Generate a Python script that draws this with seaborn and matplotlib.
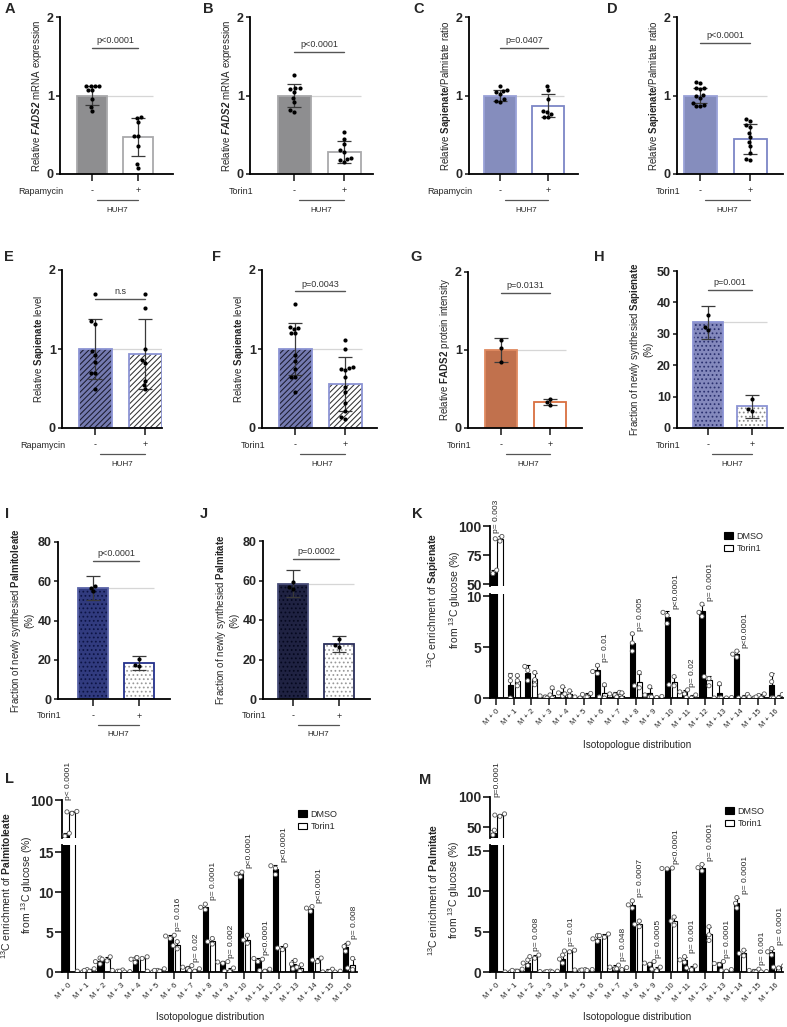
import numpy as np
import pandas as pd
import matplotlib
matplotlib.use("Agg")
import matplotlib.pyplot as plt
from matplotlib.patches import Rectangle, Patch
import seaborn as sns

# ---------------- data: two-bar panels (A-J) ----------------
groups = ["-", "+"]

A_means = [1.0, 0.47]
A_sd = [0.12, 0.24]
A_ctrl = [1.12, 1.12, 1.12, 1.12, 1.07, 1.07, 0.95, 0.85, 0.80]
A_trt = [0.72, 0.71, 0.66, 0.49, 0.48, 0.36, 0.13, 0.08]

B_means = [1.0, 0.28]
B_sd = [0.15, 0.14]
B_ctrl = [1.26, 1.10, 1.10, 1.08, 1.05, 0.97, 0.92, 0.82, 0.79]
B_trt = [0.53, 0.45, 0.38, 0.30, 0.28, 0.20, 0.19, 0.18, 0.15]

C_means = [1.0, 0.87]
C_sd = [0.07, 0.15]
C_ctrl = [1.12, 1.07, 1.06, 1.05, 1.02, 0.95, 0.93, 0.92]
C_trt = [1.12, 1.07, 0.95, 0.80, 0.79, 0.76, 0.73, 0.72]

D_means = [1.0, 0.45]
D_sd = [0.09, 0.19]
D_ctrl = [1.17, 1.16, 1.10, 1.09, 1.08, 1.01, 0.99, 0.97, 0.91, 0.88, 0.87, 0.87]
D_trt = [0.70, 0.68, 0.63, 0.60, 0.52, 0.47, 0.41, 0.36, 0.27, 0.19, 0.18]

E_means = [1.0, 0.94]
E_sd = [0.38, 0.44]
E_ctrl = [1.70, 1.35, 1.32, 0.97, 0.93, 0.84, 0.70, 0.69, 0.50]
E_trt = [1.69, 1.52, 1.00, 0.86, 0.82, 0.60, 0.55, 0.50]

F_means = [1.0, 0.56]
F_sd = [0.33, 0.34]
F_ctrl = [1.57, 1.28, 1.27, 1.25, 1.20, 1.20, 0.93, 0.85, 0.75, 0.65, 0.65, 0.45]
F_trt = [1.12, 1.00, 0.77, 0.76, 0.75, 0.73, 0.65, 0.52, 0.45, 0.32, 0.22, 0.14, 0.12]

G_means = [1.0, 0.33]
G_sd = [0.16, 0.04]
G_ctrl = [1.13, 1.03, 0.84]
G_trt = [0.37, 0.33, 0.29]

H_means = [33.7, 6.9]
H_sd = [5.3, 3.6]
H_ctrl = [35.9, 32.1, 31.3]
H_trt = [9.2, 6.1, 5.4]

I_means = [56.6, 18.5]
I_sd = [6.2, 3.6]
I_ctrl = [57.8, 56.8, 55.0]
I_trt = [20.5, 17.2, 17.0]

J_means = [58.3, 27.8]
J_sd = [6.8, 4.0]
J_ctrl = [59.0, 56.5, 55.5]
J_trt = [30.5, 27.5, 26.5]

# ---------------- data: isotopologue panels (K-M), 3 replicates ----------------
iso_labels = ["M + %d" % i for i in range(17)]
treat_order = ["DMSO", "Torin1"]

K_dmso = [[62, 61, 59], [2.2, 1.7, 0.0], [3.1, 2.7, 1.7], [0.3, 0.2, 0.1], [1.1, 0.5, 0.2],
          [0.15, 0.1, 0.0], [3.2, 2.6, 2.4], [0.55, 0.4, 0.3], [6.3, 5.4, 4.6], [1.1, 0.3, 0.1],
          [8.4, 8.1, 7.3], [0.8, 0.6, 0.4], [9.2, 8.4, 8.0], [1.4, 0.0, 0.0], [4.6, 4.3, 4.0],
          [0.25, 0.1, 0.0], [2.3, 1.6, 0.0]]
K_torin = [[91, 89, 87], [2.2, 1.7, 1.2], [2.5, 1.8, 1.3], [1.0, 0.0, 0.0], [0.7, 0.4, 0.2],
           [0.45, 0.35, 0.1], [1.3, 0.1, 0.0], [0.5, 0.1, 0.0], [2.5, 1.2, 1.0], [0.15, 0.1, 0.05],
           [2.1, 1.3, 1.2], [0.3, 0.05, 0.0], [2.1, 1.9, 1.2], [0.05, 0.0, 0.0], [0.35, 0.0, 0.0],
           [0.4, 0.1, 0.0], [0.35, 0.0, 0.0]]
K_p_idx = [0, 6, 8, 10, 11, 12, 14]
K_p_txt = ["p= 0.003", "p= 0.01", "p= 0.005", "p<0.0001", "p= 0.02", "p= 0.0001", "p<0.0001"]

L_dmso = [[65, 64, 62], [0.3, 0.1, 0.0], [1.75, 1.3, 1.0], [0.25, 0.2, 0.1], [1.8, 1.6, 1.2],
          [0.2, 0.1, 0.0], [4.6, 4.5, 4.2], [0.8, 0.6, 0.4], [8.5, 8.1, 7.8], [1.3, 1.25, 1.1],
          [12.5, 12.3, 11.9], [1.7, 1.6, 1.3], [13.3, 13.0, 12.2], [1.45, 1.0, 0.4], [8.2, 8.0, 7.6],
          [0.35, 0.0, 0.0], [3.6, 3.2, 2.6]]
L_torin = [[88, 87.5, 86], [0.4, 0.2, 0.1], [1.9, 1.6, 1.4], [0.1, 0.05, 0.0], [1.9, 1.8, 1.7],
           [0.4, 0.2, 0.1], [3.8, 3.3, 2.9], [0.4, 0.2, 0.1], [4.2, 3.8, 3.5], [0.5, 0.1, 0.05],
           [4.6, 4.0, 3.6], [0.35, 0.2, 0.1], [3.3, 3.0, 2.8], [0.9, 0.6, 0.1], [1.75, 1.5, 1.3],
           [0.1, 0.05, 0.0], [1.7, 0.5, 0.3]]
L_p_idx = [0, 6, 7, 8, 9, 10, 11, 12, 14, 16]
L_p_txt = ["p< 0.0001", "p= 0.016", "p= 0.02", "p= 0.0001", "p= 0.002", "p<0.0001",
           "p<0.0001", "p<0.0001", "p<0.0001", "p= 0.008"]

M_dmso = [[45, 41, 37], [0.1, 0.0, 0.0], [1.5, 1.1, 0.8], [0.1, 0.05, 0.0], [2.1, 1.6, 1.1],
          [0.3, 0.25, 0.2], [4.5, 4.1, 3.8], [0.85, 0.6, 0.4], [8.8, 8.3, 7.9], [1.3, 1.1, 0.95],
          [12.85, 12.8, 12.75], [1.9, 1.5, 1.2], [13.3, 12.9, 12.5], [1.3, 1.05, 0.9], [9.2, 8.5, 7.9],
          [0.35, 0.2, 0.05], [2.9, 2.5, 2.1]]
M_torin = [[72, 70, 68], [0.35, 0.2, 0.1], [2.1, 1.9, 1.7], [0.1, 0.05, 0.0], [2.7, 2.6, 2.5],
           [0.3, 0.25, 0.2], [4.7, 4.5, 4.3], [0.55, 0.4, 0.3], [6.3, 5.9, 5.6], [0.6, 0.35, 0.15],
           [6.8, 6.3, 5.8], [0.75, 0.5, 0.3], [5.6, 4.6, 3.9], [0.3, 0.2, 0.1], [2.7, 2.3, 2.0],
           [0.05, 0.0, 0.0], [0.75, 0.6, 0.5]]
M_p_idx = [0, 2, 4, 7, 8, 9, 10, 11, 12, 13, 14, 15, 16]
M_p_txt = ["p=0.0001", "p= 0.008", "p= 0.01", "p= 0.048", "p= 0.0007", "p= 0.0005", "p<0.0001",
           "p= 0.001", "p= 0.0001", "p= 0.0001", "p= 0.0001", "p= 0.001", "p= 0.0001"]

# ---------------- style ----------------
sns.set_style("ticks")
plt.rcParams["font.family"] = ["Liberation Sans", "DejaVu Sans"]
plt.rcParams["mathtext.fontset"] = "custom"
plt.rcParams["mathtext.rm"] = "Liberation Sans"
plt.rcParams["mathtext.it"] = "Liberation Sans:italic"
plt.rcParams["mathtext.bf"] = "Liberation Sans:bold"
plt.rcParams["mathtext.bfit"] = "Liberation Sans:italic:bold"
plt.rcParams["hatch.linewidth"] = 0.75
plt.rcParams["axes.linewidth"] = 1.3
plt.rcParams["axes.edgecolor"] = "black"

W, H = 787, 1027
fig = plt.figure(figsize=(W / 100, H / 100), dpi=100)


def px_axes(left, top, right, bottom):
    return fig.add_axes([left / W, 1 - bottom / H, (right - left) / W, (bottom - top) / H])


def fig_text(x, y, s, **kw):
    fig.text(x / W, 1 - y / H, s, **kw)


def two_bar(box, centers, means, sds, ctrl, trt, ylim, yticks, ylabel, treat, ptxt, py,
            fills, edges, hatch=None, hatch_cols=None):
    left, top, right, bottom = box
    ax = px_axes(left, top, right, bottom)
    c1, c2 = centers
    step = c2 - c1
    xl = ((left - c1) / step, 1 + (right - c2) / step)
    ax.set_xlim(xl)
    ax.set_ylim(ylim)

    bars = pd.DataFrame({"grp": groups, "val": means})
    sns.barplot(data=bars, x="grp", y="val", hue="grp", order=groups, hue_order=groups,
                palette=dict(zip(groups, fills)), width=0.66, errorbar=None, legend=False,
                ax=ax, zorder=2)
    patches = sorted(ax.patches, key=lambda p: p.get_x())
    for i, p in enumerate(patches):
        if hatch:
            p.set_hatch(hatch)
            p.set_edgecolor(hatch_cols[i])
            p.set_linewidth(0)
            ax.add_patch(Rectangle(p.get_xy(), p.get_width(), p.get_height(), fill=False,
                                   edgecolor=edges[i], lw=1.3, zorder=2.1))
        else:
            p.set_edgecolor(edges[i])
            p.set_linewidth(1.3)
    half = patches[0].get_width() / 2
    ax.hlines(means[0], -half, 1 + half, color="#d6d6d6", lw=0.9, zorder=1)
    ax.errorbar([0, 1], means, yerr=sds, fmt="none", ecolor="#3a3a3a", elinewidth=0.9,
                capsize=5, capthick=0.9, zorder=3)

    ax.set_xlim(xl)
    ax.set_ylim(ylim)
    pts = pd.DataFrame({"grp": ["-"] * len(ctrl) + ["+"] * len(trt), "val": ctrl + trt})
    sns.swarmplot(data=pts, x="grp", y="val", order=groups, color="black", size=3,
                  ax=ax, zorder=4)
    ax.set_xlim(xl)
    ax.set_ylim(ylim)

    ax.plot([0, 1], [py, py], color="#555555", lw=1.0, clip_on=False)
    ax.annotate(ptxt, xy=(0.5, py), xytext=(0, 2), textcoords="offset points",
                ha="center", va="bottom", fontsize=6.5, color="#333333")

    sns.despine(ax=ax)
    ax.set_yticks(yticks, labels=[str(t) for t in yticks], fontsize=9, fontweight="bold")
    ax.tick_params(axis="y", length=3, width=1.2, pad=1.5)
    ax.set_xticks([0, 1], labels=["", ""])
    ax.tick_params(axis="x", length=5, width=1.2)
    ax.set_xlabel("")
    ax.set_ylabel(ylabel, fontsize=7, labelpad=2)

    # treatment row under the axis
    hpx = bottom - top
    ax.annotate(treat, xy=(0, 0), xycoords="axes fraction", xytext=(3, -17),
                textcoords="offset pixels", ha="right", va="center", fontsize=6.5)
    for i, s in enumerate(groups):
        ax.annotate(s, xy=(i, 0), xycoords=("data", "axes fraction"), xytext=(0, -17),
                    textcoords="offset pixels", ha="center", va="center", fontsize=6.5)
    ax.plot([0.1, 1.0], [-26 / hpx, -26 / hpx], transform=ax.get_xaxis_transform(),
            color="#555555", lw=0.9, clip_on=False)
    ax.annotate("HUH7", xy=(0.55, 0), xycoords=("data", "axes fraction"), xytext=(0, -36),
                textcoords="offset pixels", ha="center", va="center", fontsize=5.8)
    return ax


def iso_panel(left, right, up_tb, lo_tb, dmso, torin, up_lim, up_ticks, lo_lim, lo_ticks,
              p_idx, p_txt, p0_y, ylabel, ylab_xy, leg_xy, xlab_xy):
    rows = []
    for lab, d, t in zip(iso_labels, dmso, torin):
        rows += [(lab, "DMSO", v) for v in d] + [(lab, "Torin1", v) for v in t]
    df = pd.DataFrame(rows, columns=["iso", "treat", "val"])
    stats = df.groupby(["treat", "iso"])["val"].agg(["mean", "std", "max"])

    ax_up = px_axes(left, up_tb[0], right, up_tb[1])
    ax_lo = px_axes(left, lo_tb[0], right, lo_tb[1])
    xl = (-0.37, 16.45)
    for ax, lim in ((ax_up, up_lim), (ax_lo, lo_lim)):
        ax.set_xlim(xl)
        ax.set_ylim(lim)
        sns.barplot(data=df, x="iso", y="val", hue="treat", order=iso_labels,
                    hue_order=treat_order, palette={"DMSO": "black", "Torin1": "white"},
                    errorbar=None, width=0.8, gap=0.25, edgecolor="black", linewidth=0.8,
                    legend=False, ax=ax, zorder=2)
        ax.set_xlim(xl)
        ax.set_ylim(lim)
        for k, tr in enumerate(treat_order):
            m = stats.loc[tr].reindex(iso_labels)
            xs = np.arange(len(iso_labels)) + (-0.2 if k == 0 else 0.2)
            ax.errorbar(xs, m["mean"], yerr=[np.zeros(len(xs)), m["std"]], fmt="none",
                        ecolor="black", elinewidth=0.8, capsize=1.5, capthick=0.8, zorder=3)
        sns.swarmplot(data=df, x="iso", y="val", hue="treat", order=iso_labels,
                      hue_order=treat_order, dodge=True,
                      palette={"DMSO": "white", "Torin1": "white"}, edgecolor="#555555",
                      linewidth=0.6, size=3, legend=False, ax=ax, zorder=4)
        ax.set_xlim(xl)
        ax.set_ylim(lim)
        ax.set_xlabel("")
        ax.set_ylabel("")

    sns.despine(ax=ax_up, bottom=True)
    ax_up.set_xticks([])
    ax_up.set_yticks(up_ticks, labels=[str(t) for t in up_ticks], fontsize=10, fontweight="bold")
    ax_up.tick_params(axis="y", length=5, width=1.3, pad=1)

    sns.despine(ax=ax_lo)
    ax_lo.set_yticks(lo_ticks, labels=[str(t) for t in lo_ticks], fontsize=10, fontweight="bold")
    ax_lo.tick_params(axis="y", length=5, width=1.3, pad=1)
    ax_lo.set_xticks(range(len(iso_labels)), labels=iso_labels, rotation=45, ha="right",
                     rotation_mode="anchor", fontsize=5.5)
    ax_lo.tick_params(axis="x", length=5, width=1.2, pad=2)

    pad = 0.03 * lo_lim[1]
    for i, txt in zip(p_idx, p_txt):
        if i == 0:
            ax_up.text(0.0, p0_y, txt, rotation=90, ha="center", va="bottom", fontsize=6,
                       clip_on=False)
        else:
            top = max(stats.loc[("DMSO", iso_labels[i]), "max"],
                      stats.loc[("Torin1", iso_labels[i]), "max"])
            ax_lo.text(i + 0.28, top + pad, txt, rotation=90, ha="center", va="bottom",
                       fontsize=6)

    fig_text(*ylab_xy, ylabel, rotation=90, ha="center", va="center", fontsize=7.5,
             linespacing=1.5)
    fig_text(*xlab_xy, "Isotopologue distribution", ha="center", va="center", fontsize=7.2)
    handles = [Patch(facecolor="black", edgecolor="black", lw=0.8),
               Patch(facecolor="white", edgecolor="black", lw=0.8)]
    fig.legend(handles, treat_order, loc="upper left",
               bbox_to_anchor=(leg_xy[0] / W, 1 - leg_xy[1] / H), frameon=False,
               fontsize=6.5, handlelength=1.0, handleheight=0.8, handletextpad=0.4,
               labelspacing=0.35, borderpad=0, borderaxespad=0)


# ---------------- draw ----------------
grey = ["#8e8e90", "white"]
grey_e = ["#a9a9ab", "#a9a9ab"]
peri = ["#7c86c6", "white"]
peri_e = ["#9aa2d8", "#7c86c6"]
y_fads = r"Relative $\mathbfit{FADS2}$ mRNA expression"
y_ratio = r"Relative $\mathbf{Sapienate}$/Palmitate ratio"
y_level = r"Relative $\mathbf{Sapienate}$ level"

two_bar((60, 17, 173, 174), (92, 138), A_means, A_sd, A_ctrl, A_trt, (0, 2), [0, 1, 2],
        y_fads, "Rapamycin", "p<0.0001", 1.61, grey, grey_e)
two_bar((250, 17, 373, 174), (294, 344), B_means, B_sd, B_ctrl, B_trt, (0, 2), [0, 1, 2],
        y_fads, "Torin1", "p<0.0001", 1.56, grey, grey_e)
two_bar((469, 17, 578, 174), (500, 548), C_means, C_sd, C_ctrl, C_trt, (0, 2), [0, 1, 2],
        y_ratio, "Rapamycin", "p=0.0407", 1.61, peri, peri_e)
two_bar((677, 17, 783, 174), (700, 750), D_means, D_sd, D_ctrl, D_trt, (0, 2), [0, 1, 2],
        y_ratio, "Torin1", "p<0.0001", 1.67, peri, peri_e)

hatched = ["#6a72ba", "white"]
hatched_e = ["#8c94d4", "#8c94d4"]
two_bar((62, 270, 162, 428), (95, 145), E_means, E_sd, E_ctrl, E_trt, (0, 2), [0, 1, 2],
        y_level, "Rapamycin", "n.s", 1.63, hatched, hatched_e, "//////", ["#1c1c30", "#333333"])
two_bar((262, 270, 377, 428), (295, 345), F_means, F_sd, F_ctrl, F_trt, (0, 2), [0, 1, 2],
        y_level, "Torin1", "p=0.0043", 1.73, hatched, hatched_e, "//////", ["#1c1c30", "#333333"])
two_bar((468, 272, 582, 428), (501, 550), G_means, G_sd, G_ctrl, G_trt, (0, 2), [0, 1, 2],
        r"Relative $\mathbf{FADS2}$ protein intensity", "Torin1", "p=0.0131", 1.735,
        ["#d4693a", "white"], ["#e08a60", "#d96f40"])
two_bar((677, 271, 783, 428), (708, 752), H_means, H_sd, H_ctrl, H_trt, (0, 50),
        [0, 10, 20, 30, 40, 50],
        "Fraction of newly synthesied $\\mathbf{Sapienate}$\n(%)", "Torin1", "p=0.001", 43.9,
        ["#7a82c6", "white"], ["#8c94d4", "#8c94d4"], "....", ["#2b3170", "#888888"])
two_bar((58, 542, 170, 699), (93, 139), I_means, I_sd, I_ctrl, I_trt, (0, 80),
        [0, 20, 40, 60, 80],
        "Fraction of newly synthesied $\\mathbf{Palmitoleate}$\n(%)", "Torin1", "p<0.0001", 70.2,
        ["#24318c", "white"], ["#5a64a8", "#24318c"], "....", ["#0d1445", "#999999"])
two_bar((263, 541, 370, 699), (293, 339), J_means, J_sd, J_ctrl, J_trt, (0, 80),
        [0, 20, 40, 60, 80],
        "Fraction of newly synthesied $\\mathbf{Palmitate}$\n(%)", "Torin1", "p=0.0002", 71.0,
        ["#191d48", "white"], ["#4a4f7a", "#2a2e5a"], "....", ["#05081f", "#999999"])

iso_panel(490, 783, (526, 586), (594, 698), K_dmso, K_torin, (48.3, 100), [50, 75, 100],
          (0, 10.2), [0, 5, 10], K_p_idx, K_p_txt, 94,
          "$^{13}$C enrichment of $\\mathbf{Sapienate}$\nfrom $^{13}$C glucose (%)",
          (444, 600), (724, 532), (637, 745))
iso_panel(62, 357, (800, 838), (845, 972), L_dmso, L_torin, (60, 100), [100],
          (0, 15.9), [0, 5, 10, 15], L_p_idx, L_p_txt, 100,
          "$^{13}$C enrichment of $\\mathbf{Palmitoleate}$\nfrom $^{13}$C glucose (%)",
          (17, 885), (298, 810), (210, 1017))
iso_panel(490, 783, (797, 838), (845, 972), M_dmso, M_torin, (32, 100), [50, 100],
          (0, 15.7), [0, 5, 10, 15], M_p_idx, M_p_txt, 100,
          "$^{13}$C enrichment of $\\mathbf{Palmitate}$\nfrom $^{13}$C glucose (%)",
          (444, 890), (725, 807), (637, 1017))

letters = ["A", "B", "C", "D", "E", "F", "G", "H", "I", "J", "K", "L", "M"]
letter_x = [10, 208, 419, 612, 9, 216, 416, 599, 7, 204, 417, 9, 425]
letter_y = [9, 9, 9, 9, 257, 257, 257, 257, 514, 514, 514, 779, 780]
for s, x, y in zip(letters, letter_x, letter_y):
    fig_text(x, y, s, fontsize=10.5, fontweight="bold", ha="center", va="center")

fig.savefig("out.png", dpi=100)
